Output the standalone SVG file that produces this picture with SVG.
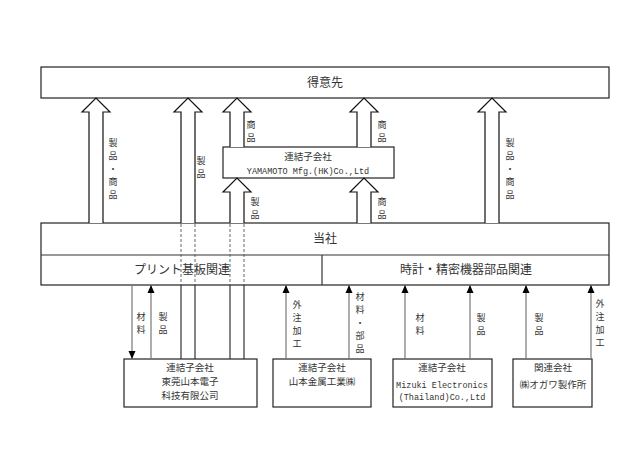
<svg xmlns="http://www.w3.org/2000/svg" width="643" height="455" viewBox="0 0 643 455">
<style>
.box{fill:#fff;stroke:#222;stroke-width:1.2}
.ha{fill:#fff;stroke:#111;stroke-width:1.2;stroke-linejoin:miter}
.ln{stroke:#777;stroke-width:1.2;fill:none}
.dash{stroke:#555;stroke-width:0.9;stroke-dasharray:3,2;fill:none}
.sol{stroke:#333;stroke-width:1.2;fill:none}
.t{font-family:"Noto Sans CJK JP",sans-serif;fill:#333;text-anchor:middle}
.m{font-family:"Liberation Mono",monospace;fill:#333;text-anchor:middle;font-size:8.5px}
.lg{font-size:12px}
.sm{font-size:9.5px}
.lb{font-size:9px}
</style>
<defs>
<marker id="ah" viewBox="0 0 8 8" refX="8" refY="4" markerWidth="8" markerHeight="8" markerUnits="userSpaceOnUse" orient="auto">
<path d="M0,0.5 L8,4 L0,7.5 Z" fill="#000"/>
</marker>
</defs>
<g id="customer"><rect class="box" x="41" y="67" width="568" height="31"/><text class="t lg" x="325" y="87">得意先</text></g>
<g id="hk"><rect class="box" x="223" y="147" width="171" height="31"/><text class="t sm" x="308" y="160">連結子会社</text><text class="m" x="308" y="174">YAMAMOTO Mfg.(HK)Co.,Ltd</text></g>
<g id="company"><rect class="box" x="41" y="223" width="568" height="62"/><line class="sol" x1="41" y1="255" x2="609" y2="255"/><line class="sol" x1="322" y1="255" x2="322" y2="285"/><text class="t lg" x="325" y="243">当社</text><text class="t lg" x="182" y="274">プリント基板関連</text><text class="t lg" x="466" y="274">時計・精密機器部品関連</text></g>
<g id="dongguan"><rect class="box" x="124" y="359" width="133" height="48"/><text class="t sm" x="190" y="371">連結子会社</text><text class="t sm" x="190" y="385">東莞山本電子</text><text class="t sm" x="190" y="399">科技有限公司</text></g>
<g id="yamamoto-kinzoku"><rect class="box" x="273" y="359" width="98" height="48"/><text class="t sm" x="322" y="371">連結子会社</text><text class="t sm" x="322" y="385">山本金属工業㈱</text></g>
<g id="mizuki"><rect class="box" x="393" y="359" width="99" height="48"/><text class="t sm" x="442" y="371">連結子会社</text><text class="m" x="442" y="388">Mizuki Electronics</text><text class="m" x="442" y="400">(Thailand)Co.,Ltd</text></g>
<g id="ogawa"><rect class="box" x="513" y="359" width="79" height="48"/><text class="t sm" x="553" y="371">関連会社</text><text class="t sm" x="553" y="388">㈱オガワ製作所</text></g>
<g id="connectors">
<path class="ha" d="M89,223 V112 H82 L96,98 L110,112 H103 V223"/>
<path class="ha" d="M181,223 V112 H174 L188,98 L202,112 H195 V223"/>
<path class="ha" d="M230,147 V112 H223 L237,98 L251,112 H244 V147"/>
<path class="ha" d="M230,223 V192 H223 L237,178 L251,192 H244 V223"/>
<path class="ha" d="M357,147 V112 H350 L364,98 L378,112 H371 V147"/>
<path class="ha" d="M357,223 V192 H350 L364,178 L378,192 H371 V223"/>
<path class="ha" d="M485,223 V112 H478 L492,98 L506,112 H499 V223"/>
<line class="dash" x1="181" y1="224" x2="181" y2="285"/>
<line class="dash" x1="195" y1="224" x2="195" y2="285"/>
<line class="dash" x1="230" y1="224" x2="230" y2="285"/>
<line class="dash" x1="244" y1="224" x2="244" y2="285"/>
<line class="sol" x1="181" y1="285" x2="181" y2="359"/>
<line class="sol" x1="195" y1="285" x2="195" y2="359"/>
<line class="sol" x1="230" y1="285" x2="230" y2="359"/>
<line class="sol" x1="244" y1="285" x2="244" y2="359"/>
<line class="ln" x1="132" y1="285" x2="132" y2="359" marker-end="url(#ah)"/>
<line class="ln" x1="151" y1="359" x2="151" y2="285" marker-end="url(#ah)"/>
<line class="ln" x1="286" y1="359" x2="286" y2="285" marker-end="url(#ah)"/>
<line class="ln" x1="349" y1="359" x2="349" y2="285" marker-end="url(#ah)"/>
<line class="ln" x1="405" y1="359" x2="405" y2="285" marker-end="url(#ah)"/>
<line class="ln" x1="470" y1="359" x2="470" y2="285" marker-end="url(#ah)"/>
<line class="ln" x1="526" y1="359" x2="526" y2="285" marker-end="url(#ah)"/>
<line class="ln" x1="591" y1="359" x2="591" y2="285" marker-end="url(#ah)"/>
</g>
<g id="labels">
<text class="t lb" x="113"><tspan x="113" y="146">製</tspan><tspan x="113" y="159">品</tspan><tspan x="113" y="172">・</tspan><tspan x="113" y="185">商</tspan><tspan x="113" y="198">品</tspan></text>
<text class="t lb" x="201"><tspan x="201" y="164">製</tspan><tspan x="201" y="177">品</tspan></text>
<text class="t lb" x="251"><tspan x="251" y="128">商</tspan><tspan x="251" y="141">品</tspan></text>
<text class="t lb" x="255"><tspan x="255" y="205">製</tspan><tspan x="255" y="218">品</tspan></text>
<text class="t lb" x="382"><tspan x="382" y="128">商</tspan><tspan x="382" y="141">品</tspan></text>
<text class="t lb" x="382"><tspan x="382" y="205">商</tspan><tspan x="382" y="218">品</tspan></text>
<text class="t lb" x="510"><tspan x="510" y="146">製</tspan><tspan x="510" y="159">品</tspan><tspan x="510" y="172">・</tspan><tspan x="510" y="185">商</tspan><tspan x="510" y="198">品</tspan></text>
<text class="t lb" x="141"><tspan x="141" y="320">材</tspan><tspan x="141" y="333">料</tspan></text>
<text class="t lb" x="163"><tspan x="163" y="320">製</tspan><tspan x="163" y="333">品</tspan></text>
<text class="t lb" x="297"><tspan x="297" y="308">外</tspan><tspan x="297" y="321">注</tspan><tspan x="297" y="334">加</tspan><tspan x="297" y="347">工</tspan></text>
<text class="t lb" x="360"><tspan x="360" y="300">材</tspan><tspan x="360" y="313">料</tspan><tspan x="360" y="326">・</tspan><tspan x="360" y="339">部</tspan><tspan x="360" y="352">品</tspan></text>
<text class="t lb" x="420"><tspan x="420" y="321">材</tspan><tspan x="420" y="334">料</tspan></text>
<text class="t lb" x="481"><tspan x="481" y="321">製</tspan><tspan x="481" y="334">品</tspan></text>
<text class="t lb" x="539"><tspan x="539" y="321">製</tspan><tspan x="539" y="334">品</tspan></text>
<text class="t lb" x="600"><tspan x="600" y="307">外</tspan><tspan x="600" y="320">注</tspan><tspan x="600" y="333">加</tspan><tspan x="600" y="346">工</tspan></text>
</g>
</svg>
